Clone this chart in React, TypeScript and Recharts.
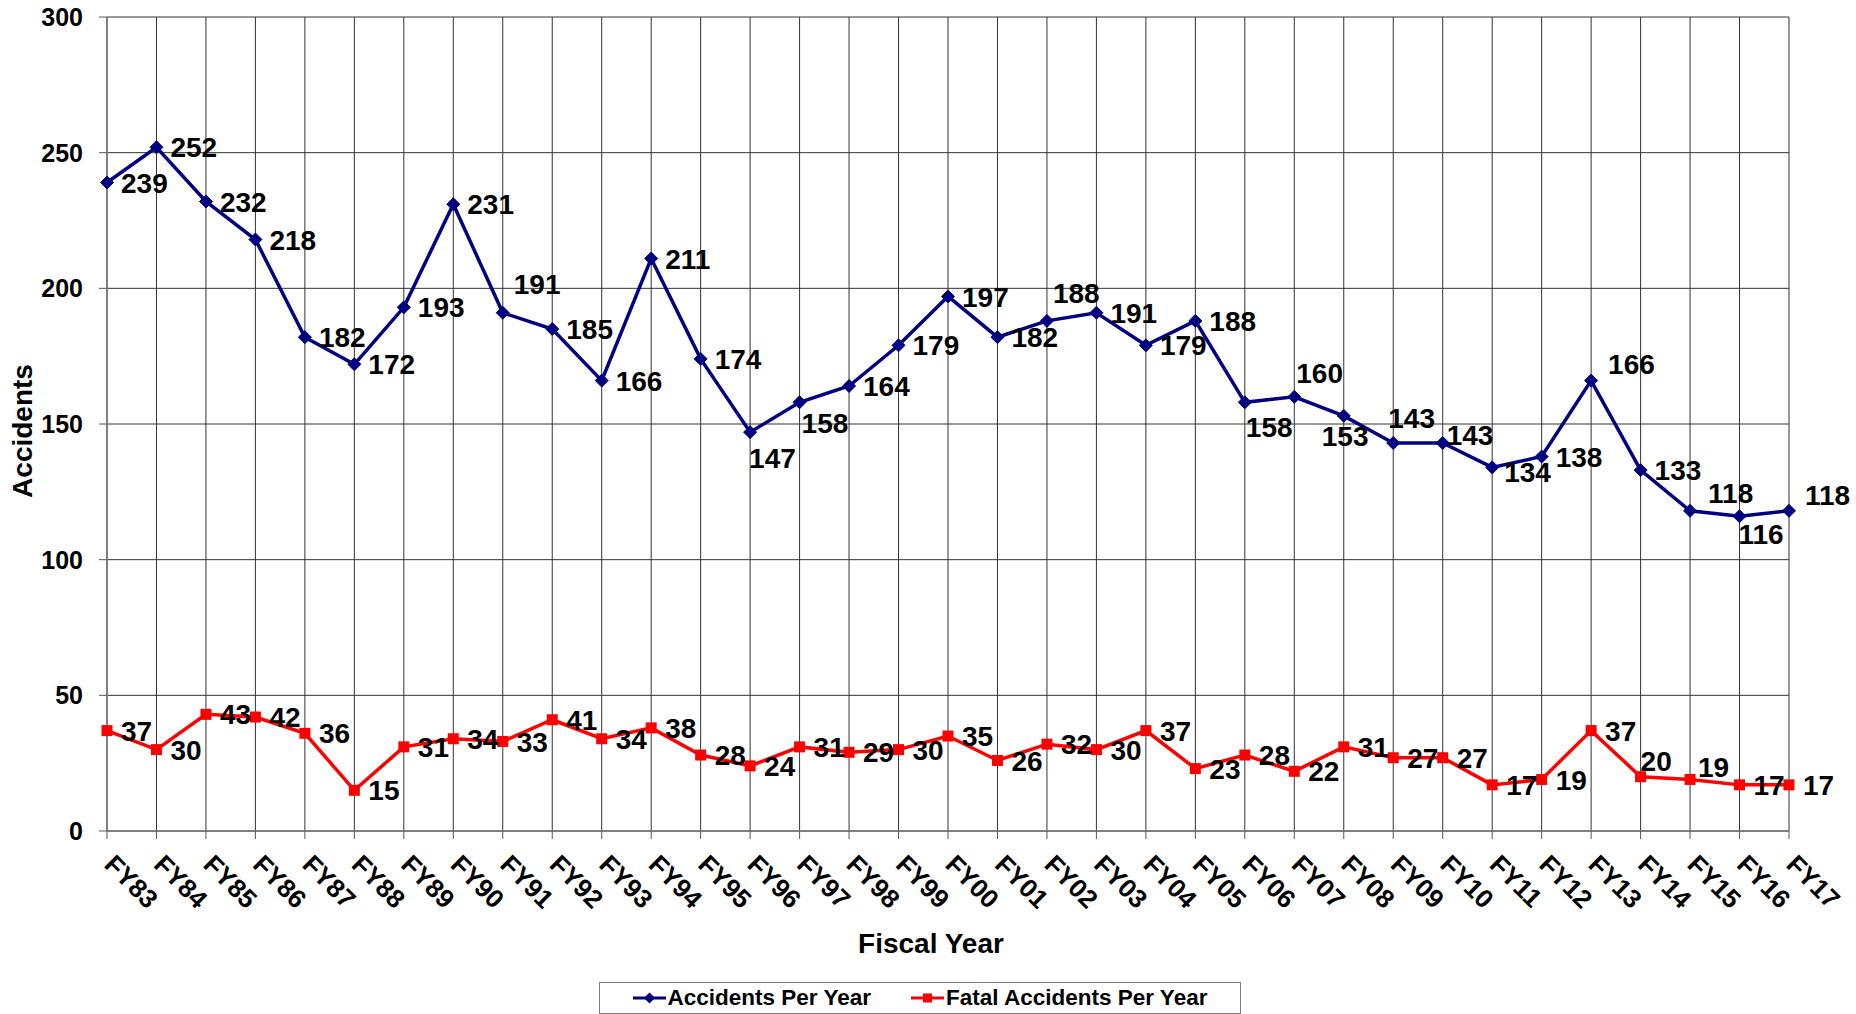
import { LineChart, Line, XAxis, YAxis, CartesianGrid, Legend, LabelList, Label } from 'recharts';

const fiscalYears = [
  'FY83', 'FY84', 'FY85', 'FY86', 'FY87', 'FY88', 'FY89', 'FY90', 'FY91', 'FY92',
  'FY93', 'FY94', 'FY95', 'FY96', 'FY97', 'FY98', 'FY99', 'FY00', 'FY01', 'FY02',
  'FY03', 'FY04', 'FY05', 'FY06', 'FY07', 'FY08', 'FY09', 'FY10', 'FY11', 'FY12',
  'FY13', 'FY14', 'FY15', 'FY16', 'FY17',
];

const accidentsPerYear = [
  239, 252, 232, 218, 182, 172, 193, 231, 191, 185,
  166, 211, 174, 147, 158, 164, 179, 197, 182, 188,
  191, 179, 188, 158, 160, 153, 143, 143, 134, 138,
  166, 133, 118, 116, 118,
];

const fatalAccidentsPerYear = [
  37, 30, 43, 42, 36, 15, 31, 34, 33, 41,
  34, 38, 28, 24, 31, 29, 30, 35, 26, 32,
  30, 37, 23, 28, 22, 31, 27, 27, 17, 19,
  37, 20, 19, 17, 17,
];

const yTicks = [0, 50, 100, 150, 200, 250, 300];

// label placement tweaks (dx, dy) from the default "right of point" spot
const accidentLabelNudge: [number, number][] = [
  [0, 0], [0, 0], [0, 0], [0, 0], [0, 0], [0, 0], [0, 0], [0, 0], [-3, -29], [0, 0],
  [0, 0], [0, 0], [0, 0], [-15, 26], [-12, 21], [0, 0], [0, 0], [0, 0], [0, 0], [-8, -28],
  [0, 0], [0, 0], [0, 0], [-13, 25], [-12, -24], [-36, 20], [-19, -25], [-10, -8], [-2, 5], [0, 0],
  [3, -17], [0, 0], [4, -18], [-15, 18], [2, -16],
];

const fatalLabelNudge: [number, number][] = fatalAccidentsPerYear.map((_, i) =>
  i === 31 ? [-14, -16] : i === 32 ? [-6, -13] : [0, 0]
);

const data = fiscalYears.map((fy, i) => ({
  fy,
  accidents: accidentsPerYear[i],
  fatal: fatalAccidentsPerYear[i],
}));

const FONT = '"Liberation Sans", Arial, Helvetica, sans-serif';
const NAVY = '#000080';
const RED = '#ff0000';

function makeLabel(nudge: [number, number][]) {
  return (props: any) => {
    const { x, y, value, index } = props;
    const [dx, dy] = nudge[index] || [0, 0];
    return (
      <text
        x={x + 14 + dx}
        y={y + dy}
        dy="0.36em"
        textAnchor="start"
        fontFamily={FONT}
        fontWeight="bold"
        fontSize={28}
        fill="#000"
      >
        {value}
      </text>
    );
  };
}

function DiamondDot(props: any) {
  const { cx, cy } = props;
  if (cx == null || cy == null) return null;
  const r = 6.5;
  return (
    <path
      d={`M${cx},${cy - r}L${cx + r},${cy}L${cx},${cy + r}L${cx - r},${cy}Z`}
      fill={NAVY}
      stroke={NAVY}
    />
  );
}

function SquareDot(props: any) {
  const { cx, cy } = props;
  if (cx == null || cy == null) return null;
  return <rect x={cx - 5.5} y={cy - 5.5} width={11} height={11} fill={RED} />;
}

function FyTick(props: any) {
  const { x, y, payload } = props;
  const bx = x - 4;
  const by = y + 27;
  return (
    <text
      x={bx}
      y={by}
      transform={`rotate(45 ${bx} ${by})`}
      textAnchor="start"
      fontFamily={FONT}
      fontWeight="bold"
      fontSize={26}
      fill="#000"
    >
      {payload.value}
    </text>
  );
}

function LegendBox() {
  const item = (color: string, square: boolean, text: string) => (
    <div style={{ display: 'flex', alignItems: 'center' }}>
      <svg width={33} height={14} style={{ marginRight: 2 }}>
        <line x1={0} y1={7} x2={33} y2={7} stroke={color} strokeWidth={3} />
        {square ? (
          <rect x={12} y={2.5} width={9} height={9} fill={color} />
        ) : (
          <path d="M16.5,1.5L22,7L16.5,12.5L11,7Z" fill={color} />
        )}
      </svg>
      <span>{text}</span>
    </div>
  );
  return (
    <div
      style={{
        boxSizing: 'border-box',
        width: 642,
        height: 32,
        border: '1px solid #808080',
        display: 'flex',
        alignItems: 'center',
        justifyContent: 'center',
        gap: 40,
        fontFamily: FONT,
        fontWeight: 'bold',
        fontSize: 22.5,
        color: '#000',
        background: '#fff',
      }}
    >
      {item(NAVY, false, 'Accidents Per Year')}
      {item(RED, true, 'Fatal Accidents Per Year')}
    </div>
  );
}

export default function App() {
  return (
    <div style={{ position: 'absolute', left: 0, top: 0, width: 1856, height: 1014, background: '#fff' }}>
      <LineChart
        width={1856}
        height={1014}
        data={data}
        margin={{ top: 17, right: 67, left: 0, bottom: 0 }}
      >
        <CartesianGrid stroke="#333" strokeWidth={1} />
        <XAxis
          dataKey="fy"
          interval={0}
          height={183}
          tickSize={8}
          tickMargin={0}
          tick={<FyTick />}
          axisLine={{ stroke: '#808080', strokeWidth: 2 }}
          tickLine={{ stroke: '#555' }}
        >
          <Label
            content={(p: any) => {
              const vb = p.viewBox;
              return (
                <text
                  x={vb.x + vb.width / 2 - 17}
                  y={vb.y + 112}
                  dy="0.36em"
                  textAnchor="middle"
                  fontFamily={FONT}
                  fontWeight="bold"
                  fontSize={28}
                  fill="#000"
                >
                  Fiscal Year
                </text>
              );
            }}
          />
        </XAxis>
        <YAxis
          domain={[0, 300]}
          ticks={yTicks}
          width={107}
          tickSize={8}
          tickMargin={16}
          tick={{ fontFamily: FONT, fontWeight: 'bold', fontSize: 25, fill: '#000' }}
          axisLine={{ stroke: '#808080', strokeWidth: 2 }}
          tickLine={{ stroke: '#555' }}
        >
          <Label
            content={(p: any) => {
              const vb = p.viewBox;
              const cx = vb.x + 22;
              const cy = vb.y + vb.height / 2 + 7;
              return (
                <text
                  x={cx}
                  y={cy}
                  dy="0.36em"
                  transform={`rotate(-90 ${cx} ${cy})`}
                  textAnchor="middle"
                  fontFamily={FONT}
                  fontWeight="bold"
                  fontSize={28}
                  fill="#000"
                >
                  Accidents
                </text>
              );
            }}
          />
        </YAxis>
        <Legend
          layout="horizontal"
          verticalAlign="middle"
          align="center"
          wrapperStyle={{ left: 599, top: 982, width: 642, height: 32 }}
          content={() => <LegendBox />}
        />
        <Line
          name="Accidents Per Year"
          dataKey="accidents"
          stroke={NAVY}
          strokeWidth={3.5}
          dot={<DiamondDot />}
          activeDot={false}
          isAnimationActive={false}
        >
          <LabelList dataKey="accidents" content={makeLabel(accidentLabelNudge)} />
        </Line>
        <Line
          name="Fatal Accidents Per Year"
          dataKey="fatal"
          stroke={RED}
          strokeWidth={3.5}
          dot={<SquareDot />}
          activeDot={false}
          isAnimationActive={false}
        >
          <LabelList dataKey="fatal" content={makeLabel(fatalLabelNudge)} />
        </Line>
      </LineChart>
    </div>
  );
}
